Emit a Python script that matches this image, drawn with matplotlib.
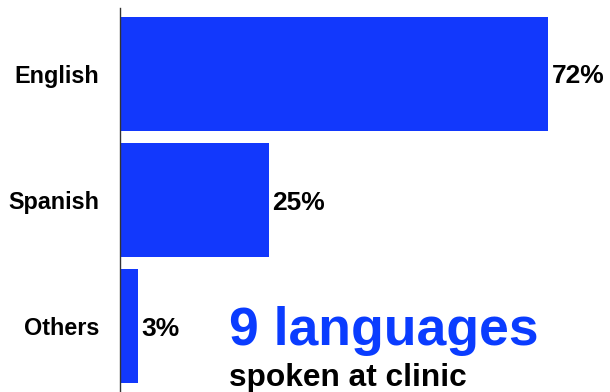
import matplotlib
matplotlib.use('Agg')
import matplotlib.pyplot as plt

languages = ['English', 'Spanish', 'Others']
shares = [72, 25, 3]
headline = '9 languages'
subline = 'spoken at clinic'

plt.rcParams['font.family'] = ['Liberation Sans', 'DejaVu Sans']
plt.rcParams['font.weight'] = 'bold'

W, H = 610, 392
fig = plt.figure(figsize=(W / 100, H / 100), dpi=100)
ax = fig.add_axes([120 / W, 0, (W - 120) / W, 384 / H])

blue = '#1238fc'
pos = list(range(len(languages)))
bars = ax.barh(pos, shares, height=0.9, color=blue)

ax.set_xlim(0, 490 / 5.944)
ax.set_ylim(-0.52, len(languages) - 1 + 0.52)
ax.invert_yaxis()

ax.set_yticks(pos)
ax.set_yticklabels(languages, fontsize=16.8, fontweight='bold')
ax.tick_params(axis='y', length=0, pad=15)
ax.set_xticks([])

for s in ['top', 'right', 'bottom']:
    ax.spines[s].set_visible(False)
ax.spines['left'].set_color('#333333')
ax.spines['left'].set_linewidth(1.0)

for b, v in zip(bars, shares):
    ax.text(v + 0.6, b.get_y() + b.get_height() / 2, f'{v}%',
            va='center_baseline', ha='left', fontsize=19, fontweight='bold')

fig.text(229 / W, (H - 345) / H, headline, color='#0a3cff',
         fontsize=38.5, fontweight='bold', va='baseline', ha='left')
fig.text(229 / W, (H - 386) / H, subline, color='black',
         fontsize=22.8, fontweight='bold', va='baseline', ha='left')

fig.savefig('out.png', dpi=100)
